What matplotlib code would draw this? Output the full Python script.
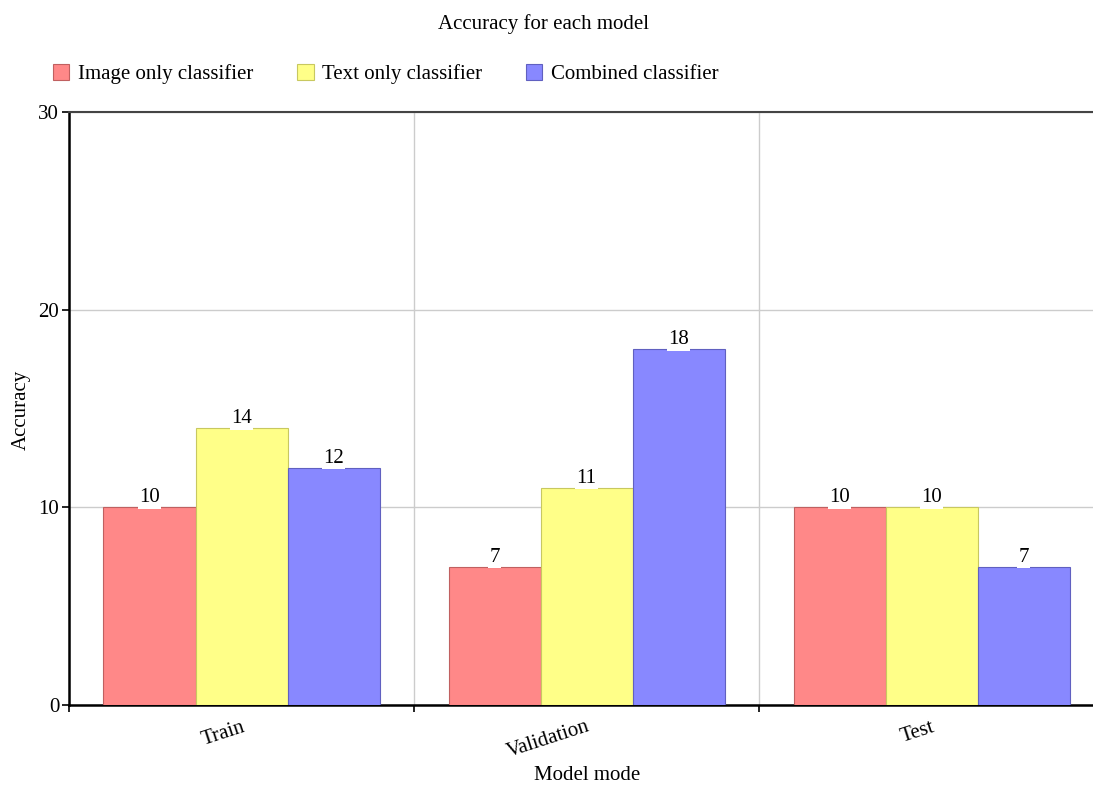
import numpy as np
import matplotlib.pyplot as plt

plt.rcParams['font.family'] = ['Liberation Serif', 'DejaVu Serif']

# Accuracy per split for each classifier
modos = ['Train', 'Validation', 'Test']
series = ['Image only classifier', 'Text only classifier', 'Combined classifier']
imagen = [10, 7, 10]
texto = [14, 11, 10]
combinado = [12, 18, 7]

colores = ['#FF8888', '#FFFF88', '#8888FF']
bordes = ['#C06060', '#C8C860', '#6060C0']
fs = 15

fig = plt.figure(figsize=(10.93, 7.86), dpi=100)
ax = fig.add_axes([69/1093, 1 - 705/786, 1035/1093, (705 - 112)/786])

x = np.arange(len(modos)) + 0.5
ancho = 0.8 / 3
valores = [imagen, texto, combinado]
barras = []
for i, vals in enumerate(valores):
    pos = x - 0.4 + ancho * (i + 0.5)
    b = ax.bar(pos, vals, width=ancho, color=colores[i], edgecolor=bordes[i],
               linewidth=0.8, label=series[i], zorder=3)
    barras.append(b)
    for p, v in zip(pos, vals):
        ax.text(p, v, str(v), ha='center', va='bottom', fontsize=fs,
                zorder=4, bbox=dict(facecolor='white', edgecolor='none', pad=1))

ax.set_xlim(0, 3)
ax.set_ylim(0, 30)
ax.set_yticks([0, 10, 20, 30])
ax.tick_params(axis='y', labelsize=fs, length=5, width=1.2, pad=2)

# ticks and vertical grid on the category boundaries
ax.set_xticks([0, 1, 2, 3])
ax.set_xticklabels([])
ax.set_xticks(x, minor=True)
ax.set_xticklabels(modos, minor=True, rotation=18, ha='right',
                   rotation_mode='anchor', fontsize=fs)
ax.tick_params(axis='x', which='minor', length=0, pad=9)
ax.tick_params(axis='x', which='major', length=5, width=1.2)
ax.grid(True, color='#cccccc', linewidth=1, zorder=0)

ax.spines['right'].set_visible(False)
ax.spines['top'].set_color('#444444')
ax.spines['top'].set_linewidth(1.5)
ax.spines['left'].set_linewidth(1.8)
ax.spines['bottom'].set_linewidth(1.8)

fig.text(21/1093, 1 - 410/786, 'Accuracy', rotation=90, ha='center', va='center',
         fontsize=fs)
fig.text(587/1093, 1 - 775/786, 'Model mode', ha='center', va='center', fontsize=fs)
fig.text(544/1093, 1 - 24/786, 'Accuracy for each model', ha='center',
         va='center', fontsize=fs)

fig.legend(handles=barras, loc='center left', bbox_to_anchor=(34/1093, 1 - 74/786),
           ncol=3, frameon=False, fontsize=fs, handlelength=0.8, handleheight=0.8,
           handletextpad=0.4, columnspacing=2.1)

fig.savefig('out.png', dpi=100)
